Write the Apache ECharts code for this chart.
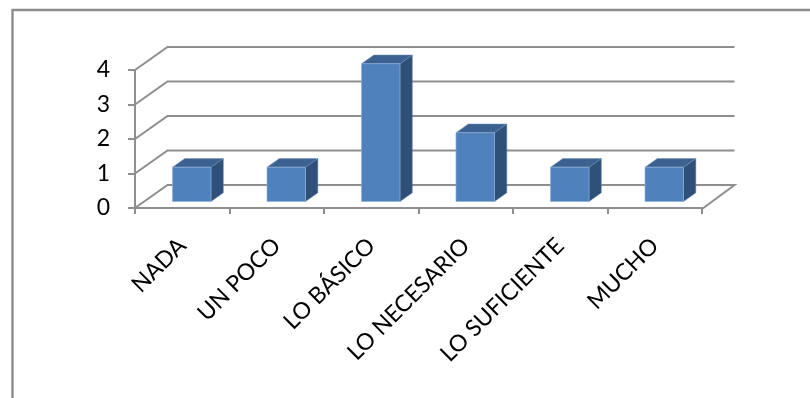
<!DOCTYPE html>
<html><head><meta charset="utf-8">
<style>html,body{margin:0;padding:0;background:#fff}#c{width:810px;height:398px}</style>
<script src="https://cdn.jsdelivr.net/npm/echarts@6/dist/echarts.min.js"></script>
</head><body><div id="c"></div>
<script>
const categories = ['NADA','UN POCO','LO BÁSICO','LO NECESARIO','LO SUFICIENTE','MUCHO'];
const values = [1,1,4,2,1,1];
const ticks = [0,1,2,3,4];
const DX = 32.5, DY = 23;
const GRID = '#8e8e8e';
const chart = echarts.init(document.getElementById('c'), null, {renderer:'canvas'});
function wallItem(params, api){
  const v = api.value(0);
  const p0 = api.coord([0, v]);
  const r = params.coordSys.x + params.coordSys.width;
  const pts = [[params.coordSys.x, p0[1]], [params.coordSys.x + DX, p0[1] - DY], [r + DX, p0[1] - DY]];
  if (v === 0) pts.push([r, p0[1]+1]);
  return {type:'polyline', shape:{points:pts}, style:{stroke:GRID, lineWidth:2, fill:null}, silent:true};
}
function barItem(params, api){
  const cat = api.value(0), v = api.value(1);
  const top = api.coord([cat, v]), base = api.coord([cat, 0]);
  const w = 38.5, dx = 12.3, dy = 8.7, off = 9.5, lift = 6.5;
  const l = top[0] + off - w/2, r = l + w, b = base[1] - lift, t = top[1] - lift + 0.2;
  return {type:'group', children:[
    {type:'polygon', shape:{points:[[r,t],[r+dx,t-dy],[r+dx,b-dy],[r,b]]}, style:{fill:'#2f5079', stroke:'#5f7fa6', lineWidth:0.5}},
    {type:'polygon', shape:{points:[[l,t],[l+dx,t-dy],[r+dx,t-dy],[r,t]]}, style:{fill:'#3b6291', stroke:'#6f90b8', lineWidth:0.5}},
    {type:'rect', shape:{x:l,y:t,width:w,height:b-t}, style:{fill:'#4f81bd', stroke:'#8fb0d8', lineWidth:0.7}}
  ]};
}
chart.setOption({
  animation:false,
  backgroundColor:'#fff',
  graphic:[{type:'polyline', shape:{points:[[12.5,400],[12.5,10],[812,10]]}, style:{fill:null, stroke:'#8c8c8c', lineWidth:2.4}, silent:true, z:-1}],
  grid:{left:135, right:108, top:70, bottom:190, containLabel:false},
  xAxis:{type:'category', data:categories, boundaryGap:true,
    offset:1,
    axisLine:{show:true,lineStyle:{color:GRID,width:2}},
    axisTick:{show:true,alignWithLabel:false,length:6,lineStyle:{color:GRID,width:2}},
    axisLabel:{rotate:45,interval:0,margin:33,color:'#000',fontFamily:'Lato',fontSize:23},
    splitLine:{show:false}},
  yAxis:{type:'value', min:0, max:4, interval:1,
    axisLine:{show:true,lineStyle:{color:GRID,width:2}},
    axisTick:{show:true,length:7,lineStyle:{color:GRID,width:2}},
    axisLabel:{margin:25,color:'#000',fontFamily:'Lato',fontSize:23,padding:[6,0,0,0]},
    splitLine:{show:false}},
  series:[
    {type:'custom', name:'walls', coordinateSystem:'cartesian2d', renderItem:wallItem, data:ticks.map(t=>[t]), encode:{y:0}, z:1, silent:true},
    {type:'custom', name:'values', coordinateSystem:'cartesian2d', renderItem:barItem, data:values.map((v,i)=>[i,v]), encode:{x:0,y:1}, z:3, silent:true}
  ]
});
</script></body></html>
